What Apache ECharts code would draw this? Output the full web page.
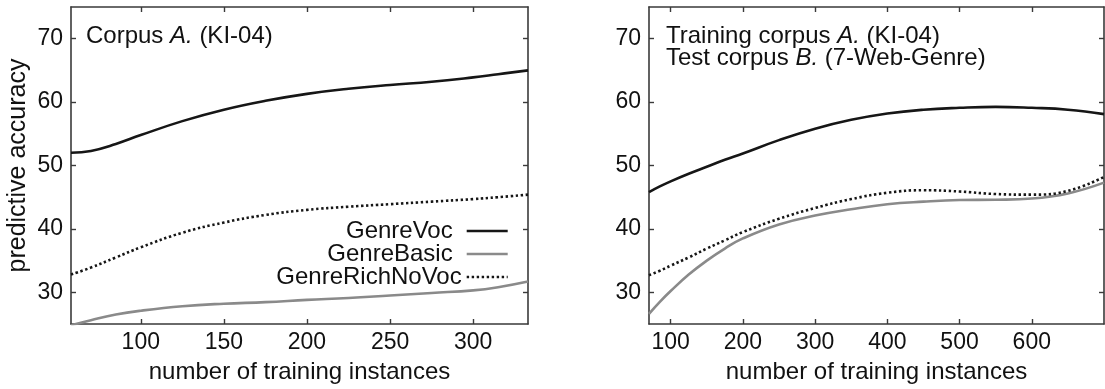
<!DOCTYPE html>
<html>
<head>
<meta charset="utf-8">
<script src="https://cdn.jsdelivr.net/npm/echarts@6/dist/echarts.min.js"></script>
<style>
  html, body { margin: 0; padding: 0; background: #fff; }
  #chart { width: 1105px; height: 389px; }
</style>
</head>
<body>
<div id="chart"></div>
<script>
// ---- data ----
const leftX = [58, 70, 85, 100, 125, 150, 175, 200, 225, 250, 275, 300, 315, 333];
const leftGenreVoc = [52.0, 52.3, 53.4, 54.8, 57.0, 58.8, 60.2, 61.3, 62.1, 62.7, 63.2, 63.9, 64.4, 65.0];
const leftGenreBasic = [24.8, 25.6, 26.5, 27.1, 27.8, 28.2, 28.45, 28.8, 29.1, 29.5, 29.9, 30.3, 30.8, 31.7];
const leftGenreRichNoVoc = [32.8, 33.9, 35.5, 37.1, 39.4, 41.0, 42.2, 43.0, 43.5, 43.9, 44.3, 44.7, 45.0, 45.4];

const rightX = [70, 85, 100, 125, 150, 175, 200, 250, 300, 350, 400, 450, 500, 550, 600, 650, 700];
const rightGenreVoc = [45.8, 46.7, 47.5, 48.7, 49.8, 50.9, 51.9, 54.0, 55.8, 57.2, 58.2, 58.8, 59.1, 59.25, 59.1, 58.8, 58.1];
const rightGenreBasic = [26.6, 28.5, 30.2, 32.8, 35.0, 36.9, 38.5, 40.7, 42.1, 43.1, 43.9, 44.3, 44.55, 44.6, 44.8, 45.6, 47.3];
const rightGenreRichNoVoc = [32.7, 33.4, 34.2, 35.5, 36.9, 38.2, 39.5, 41.6, 43.3, 44.7, 45.7, 46.1, 45.9, 45.5, 45.4, 46.0, 48.2];

const yTicks = [30, 40, 50, 60, 70];
const leftXTicks = [100, 150, 200, 250, 300];
const rightXTicks = [100, 200, 300, 400, 500, 600];

const seriesNames = ['GenreVoc', 'GenreBasic', 'GenreRichNoVoc'];
const leftTitle = 'Corpus {i|A.} (KI-04)';
const rightTitle1 = 'Training corpus {i|A.} (KI-04)';
const rightTitle2 = 'Test corpus {i|B.} (7-Web-Genre)';
const xAxisName = 'number of training instances';
const yAxisName = 'predictive accuracy';

// ---- styling ----
const FONT = "'Liberation Sans', Arial, Helvetica, sans-serif";
const FS = 24;
const TICK_FS = 23;
const AXIS_COLOR = '#3a3a3a';
const lineStyles = [
  { color: '#161616', width: 2.6, type: 'solid' },
  { color: '#8a8a8a', width: 2.6, type: 'solid' },
  { color: '#161616', width: 2.6, type: [2.4, 2.6] }
];

function pairs(xs, ys) { return xs.map((x, i) => [x, ys[i]]); }

function axisBase(extra) {
  return Object.assign({
    type: 'value',
    axisLine: { show: true, onZero: false, lineStyle: { color: AXIS_COLOR, width: 1.6 } },
    splitLine: { show: false }
  }, extra);
}
function tick(values) {
  return { show: true, inside: true, length: 5, customValues: values, lineStyle: { color: AXIS_COLOR, width: 1.4 } };
}

function xAxes(gridIndex, min, max, ticks) {
  const bottom = axisBase({
    gridIndex, position: 'bottom', min, max,
    axisTick: tick(ticks),
    axisLabel: { show: true, color: '#111', fontSize: TICK_FS, fontFamily: FONT, margin: 7, customValues: ticks },
    name: xAxisName,
    nameLocation: 'middle', nameGap: 36,
    nameTextStyle: { color: '#111', fontSize: FS, fontFamily: FONT }
  });
  const top = axisBase({
    gridIndex, position: 'top', min, max,
    axisTick: tick(ticks),
    axisLabel: { show: false, customValues: ticks }
  });
  return [bottom, top];
}

function yAxes(gridIndex, withName) {
  const left = axisBase({
    gridIndex, position: 'left', min: 25, max: 75,
    axisTick: tick(yTicks),
    axisLabel: { show: true, color: '#111', fontSize: TICK_FS, fontFamily: FONT, margin: 8, customValues: yTicks },
    name: withName ? yAxisName : '',
    nameLocation: 'middle', nameGap: 40, nameRotate: 90,
    nameTextStyle: { color: '#111', fontSize: 25, fontFamily: FONT }
  });
  const right = axisBase({
    gridIndex, position: 'right', min: 25, max: 75,
    axisTick: tick(yTicks),
    axisLabel: { show: false, customValues: yTicks }
  });
  return [left, right];
}

function mkSeries(name, idx, xAxisIndex, yAxisIndex, data) {
  return {
    type: 'line', name, xAxisIndex, yAxisIndex, data,
    smooth: 0.45, symbol: 'none', showSymbol: false, clip: true,
    lineStyle: Object.assign({}, lineStyles[idx]),
    itemStyle: { color: lineStyles[idx].color },
    emphasis: { disabled: true },
    animation: false
  };
}

const legendCenters = [231, 254, 277];
const legendTextPadRight = [9, 9, 0];
const legends = seriesNames.map((n, i) => ({
  data: [n],
  orient: 'vertical',
  align: 'right',
  right: 596,
  top: legendCenters[i] - 13,
  padding: 0,
  itemWidth: 41,
  itemHeight: 26,
  itemGap: 0,
  selectedMode: false,
  itemStyle: { color: 'rgba(0,0,0,0)', borderColor: 'rgba(0,0,0,0)', borderWidth: 0, opacity: 0 },
  lineStyle: Object.assign({}, lineStyles[i]),
  textStyle: { color: '#111', fontSize: FS, fontFamily: FONT, lineHeight: 26, padding: [0, legendTextPadRight[i], 0, 0] }
}));

const titleStyle = {
  color: '#111', fontSize: FS, fontFamily: FONT, fontWeight: 'normal', lineHeight: 26,
  rich: { i: { fontStyle: 'italic', fontSize: FS, fontFamily: FONT, color: '#111', lineHeight: 26 } }
};

const option = {
  backgroundColor: '#fff',
  animation: false,
  title: [
    { text: leftTitle, left: 86, top: 23, padding: 0, textStyle: titleStyle },
    { text: rightTitle1, left: 666, top: 23, padding: 0, textStyle: titleStyle },
    { text: rightTitle2, left: 666, top: 45, padding: 0, textStyle: titleStyle }
  ],
  legend: legends,
  grid: [
    { left: 71, top: 7, width: 457, height: 321, containLabel: false },
    { left: 649, top: 7, width: 455, height: 321, containLabel: false }
  ],
  xAxis: [
    ...xAxes(0, 58, 333, leftXTicks),
    ...xAxes(1, 70, 700, rightXTicks)
  ],
  yAxis: [
    ...yAxes(0, true),
    ...yAxes(1, false)
  ],
  series: [
    mkSeries(seriesNames[0], 0, 0, 0, pairs(leftX, leftGenreVoc)),
    mkSeries(seriesNames[1], 1, 0, 0, pairs(leftX, leftGenreBasic)),
    mkSeries(seriesNames[2], 2, 0, 0, pairs(leftX, leftGenreRichNoVoc)),
    mkSeries(seriesNames[0], 0, 2, 2, pairs(rightX, rightGenreVoc)),
    mkSeries(seriesNames[1], 1, 2, 2, pairs(rightX, rightGenreBasic)),
    mkSeries(seriesNames[2], 2, 2, 2, pairs(rightX, rightGenreRichNoVoc))
  ]
};

const chart = echarts.init(document.getElementById('chart'), null, { renderer: 'canvas' });
chart.setOption(option);
</script>
</body>
</html>
